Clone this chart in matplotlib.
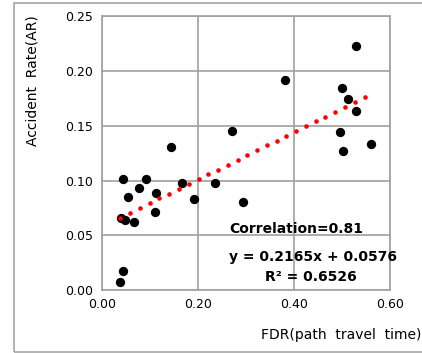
import numpy as np
import matplotlib.pyplot as plt
from matplotlib.patches import Rectangle

# FDR vs accident rate
fdr = [0.045, 0.0915, 0.168, 0.0783, 0.112, 0.0554, 0.193, 0.110, 0.0395, 0.049,
       0.0672, 0.0437, 0.038, 0.1436, 0.236, 0.2947, 0.2705, 0.3815, 0.529, 0.4995,
       0.5126, 0.529, 0.4953, 0.5605, 0.503]
ar = [0.1017, 0.1017, 0.0974, 0.0935, 0.0889, 0.0852, 0.0831, 0.0712, 0.0655, 0.0639,
      0.0624, 0.0176, 0.0076, 0.1309, 0.0974, 0.0801, 0.1452, 0.1915, 0.2229, 0.1842,
      0.1745, 0.1635, 0.1440, 0.1337, 0.1267]

slope = 0.2165
intercept = 0.0576
trend_x = [0.039, 0.547]
x_ticks = [0.0, 0.2, 0.4, 0.6]
y_ticks = [0.0, 0.05, 0.10, 0.15, 0.20, 0.25]

fig = plt.figure(figsize=(4.22, 3.53), dpi=100)
W, H = 422, 353
ax = fig.add_axes([101.7 / W, 1 - 290 / H, (390 - 101.7) / W, (290 - 16.3) / H])

# outer frame
fig.patches.append(Rectangle((14 / W, 1 - 352 / H), 1.0, (352 - 3) / H,
                             transform=fig.transFigure, fill=False,
                             edgecolor='#a6a6a6', linewidth=1.2))

ax.scatter(fdr, ar, s=45, color='black', zorder=3, linewidths=0)

# dotted trendline (round dots, ~26 of them)
tx = np.linspace(trend_x[0], trend_x[1], 26)
ax.plot(tx, slope * tx + intercept, linestyle='none', marker='o', markersize=3.3,
        color='red', markeredgewidth=0, zorder=4)

ax.set_xlim(0, 0.6)
ax.set_ylim(0, 0.25)
ax.set_xticks(x_ticks)
ax.set_yticks(y_ticks)
ax.set_xticklabels([f'{v:.2f}' for v in x_ticks], fontsize=9)
ax.set_yticklabels([f'{v:.2f}' for v in y_ticks], fontsize=9)
ax.tick_params(length=0, pad=6)
ax.grid(True, color='#a0a0a0', linewidth=1.2)
ax.set_axisbelow(True)
for s in ax.spines.values():
    s.set_color('#a0a0a0')
    s.set_linewidth(1.2)

fig.text(33 / W, 1 - 81 / H, 'Accident  Rate(AR)', rotation=90, fontsize=10,
         ha='center', va='center')
fig.text(421 / W, 1 - 335 / H, 'FDR(path  travel  time)', fontsize=10,
         ha='right', va='center')

fig.text(296 / W, 1 - 229 / H, 'Correlation=0.81', fontsize=10, fontweight='bold',
         ha='center', va='center')
fig.text(313 / W, 1 - 257 / H, 'y = 0.2165x + 0.0576', fontsize=10, fontweight='bold',
         ha='center', va='center')
fig.text(310.5 / W, 1 - 277 / H, 'R² = 0.6526', fontsize=10, fontweight='bold',
         ha='center', va='center')

fig.savefig('out.png', dpi=100)
